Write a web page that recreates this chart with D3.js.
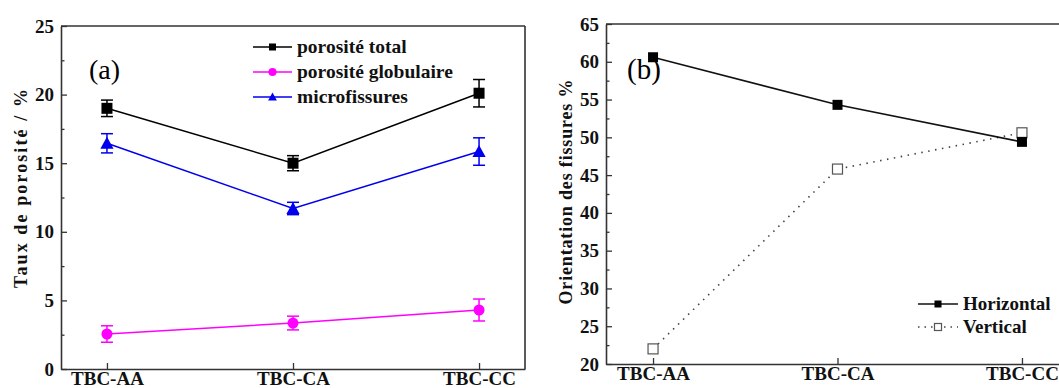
<!DOCTYPE html>
<html><head><meta charset="utf-8">
<script src="https://cdn.jsdelivr.net/npm/d3@7"></script>
<style>
body{margin:0;background:#fff;}
svg{display:block;}
</style></head><body>
<svg id="c" width="1059" height="388"></svg>
<script>
const categories = ["TBC-AA","TBC-CA","TBC-CC"];
// Panel (a)
const totalVals = [19.0, 15.0, 20.1];
const totalErr = [0.6, 0.55, 1.0];
const globVals = [2.55, 3.35, 4.3];
const globErr = [0.6, 0.5, 0.8];
const microVals = [16.45, 11.7, 15.85];
const microErr = [0.7, 0.45, 1.0];
const aYTicks = [0,5,10,15,20,25];
const aYMinor = [2.5,7.5,12.5,17.5,22.5];
const aLegend = ["porosité total","porosité globulaire","microfissures"];
// Panel (b)
const horizVals = [60.6, 54.3, 49.4];
const vertVals = [22.0, 45.8, 50.6];
const bYTicks = [20,25,30,35,40,45,50,55,60,65];
const bYMinor = [22.5,27.5,32.5,37.5,42.5,47.5,52.5,57.5,62.5];
const bLegend = ["Horizontal","Vertical"];

const FONT = "'Liberation Serif', 'Times New Roman', Tinos, serif";
const svg = d3.select("#c");
const frameColor = "#333";

function txt(g, x, y, s, size, bold){
  return g.append("text").attr("x",x).attr("y",y).style("font-family",FONT)
    .style("font-size",size+"px").style("font-weight",bold?"bold":"normal").attr("fill","#111").text(s);
}

function drawAxes(g, x, y, yTicks, yMinor, left, right, top, bottom){
  const ax = g.append("g").attr("transform",`translate(${left},0)`)
    .call(d3.axisLeft(y).tickValues(yTicks).tickSize(-6).tickSizeOuter(0).tickPadding(7));
  const am = g.append("g").attr("transform",`translate(${left},0)`)
    .call(d3.axisLeft(y).tickValues(yMinor).tickSize(-3.5).tickSizeOuter(0).tickFormat(""));
  am.select(".domain").remove();
  const bx = g.append("g").attr("transform",`translate(0,${bottom})`)
    .call(d3.axisBottom(x).tickSize(-6).tickSizeOuter(0).tickPadding(3));
  [ax,am,bx].forEach(a=>{
    a.selectAll("line").attr("stroke",frameColor).attr("stroke-width",1.3);
    a.selectAll(".domain").attr("stroke",frameColor).attr("stroke-width",1.6);
  });
  ax.selectAll("text").style("font-size","19px").style("font-weight","bold").attr("fill","#111")
    .style("font-family",FONT);
  bx.selectAll("text").style("font-size","19px").style("font-weight","bold").attr("fill","#111")
    .style("font-family",FONT).attr("dy","0.68em");
  g.append("line").attr("x1",left).attr("x2",right).attr("y1",top).attr("y2",top)
    .attr("stroke",frameColor).attr("stroke-width",1.6);
  g.append("line").attr("x1",right).attr("x2",right).attr("y1",top).attr("y2",bottom)
    .attr("stroke",frameColor).attr("stroke-width",1.6);
}

function marker(g, type, cx, cy, color, size, hollow){
  if(type==="square"){
    g.append("rect").attr("x",cx-size/2).attr("y",cy-size/2).attr("width",size).attr("height",size)
      .attr("fill",hollow?"#fff":color).attr("stroke",hollow?"#555":color).attr("stroke-width",hollow?1.2:0);
  } else if(type==="circle"){
    g.append("circle").attr("cx",cx).attr("cy",cy).attr("r",size/2).attr("fill",color);
  } else if(type==="triangle"){
    const s=size;
    g.append("path").attr("d",`M${cx},${cy-s*0.55}L${cx+s*0.55},${cy+s*0.45}L${cx-s*0.55},${cy+s*0.45}Z`).attr("fill",color);
  }
}

// ---- Panel (a)
{
  const left=61,right=525,top=26,bottom=369;
  const x=d3.scalePoint().domain(categories).range([left,right]).padding(0.247);
  const y=d3.scaleLinear().domain([0,25]).range([bottom,top]);
  const g=svg.append("g");
  drawAxes(g,x,y,aYTicks,aYMinor,left,right,top,bottom);
  const series=[
    {vals:totalVals,err:totalErr,color:"#000",type:"square",size:11},
    {vals:globVals,err:globErr,color:"#ff00ff",type:"circle",size:11},
    {vals:microVals,err:microErr,color:"#0000ee",type:"triangle",size:12}
  ];
  series.forEach(s=>{
    const line=d3.line().x((d,i)=>x(categories[i])).y(d=>y(d));
    g.append("path").attr("d",line(s.vals)).attr("fill","none").attr("stroke",s.color).attr("stroke-width",1.5);
    s.vals.forEach((v,i)=>{
      const cx=x(categories[i]);
      const y1=y(v+s.err[i]), y2=y(v-s.err[i]);
      g.append("line").attr("x1",cx).attr("x2",cx).attr("y1",y1).attr("y2",y2).attr("stroke",s.color).attr("stroke-width",1.5);
      [y1,y2].forEach(yy=>g.append("line").attr("x1",cx-6).attr("x2",cx+6).attr("y1",yy).attr("y2",yy).attr("stroke",s.color).attr("stroke-width",1.5));
      marker(g,s.type,cx,y(v),s.color,s.size);
    });
  });
  // legend
  const legY=[47,72,97];
  series.forEach((s,i)=>{
    g.append("line").attr("x1",253).attr("x2",292).attr("y1",legY[i]).attr("y2",legY[i]).attr("stroke",s.color).attr("stroke-width",1.5);
    marker(g,s.type,272.5,legY[i],s.color,s.type==="square"?7:8);
    txt(g,297,legY[i]+6,aLegend[i],19.5,true);
  });
  txt(g,89,79,"(a)",28,false).attr("fill","#000");
  txt(g,0,0,"Taux de porosité / %",18,true)
    .attr("transform",`translate(27,${(top+bottom)/2-9}) rotate(-90)`).attr("text-anchor","middle")
    .attr("textLength",199).attr("lengthAdjust","spacing");
}

// ---- Panel (b)
{
  const left=606,right=1069,top=24,bottom=364;
  const x=d3.scalePoint().domain(categories).range([left,right]).padding(0.255);
  const y=d3.scaleLinear().domain([20,65]).range([bottom,top]);
  const g=svg.append("g");
  drawAxes(g,x,y,bYTicks,bYMinor,left,right,top,bottom);
  const lineH=d3.line().x((d,i)=>x(categories[i])).y(d=>y(d));
  g.append("path").attr("d",lineH(vertVals)).attr("fill","none").attr("stroke","#444").attr("stroke-width",1.6)
    .attr("stroke-dasharray","1.5,5.5");
  g.append("path").attr("d",lineH(horizVals)).attr("fill","none").attr("stroke","#111").attr("stroke-width",1.6);
  vertVals.forEach((v,i)=>marker(g,"square",x(categories[i]),y(v),"#555",10,true));
  horizVals.forEach((v,i)=>marker(g,"square",x(categories[i]),y(v),"#000",10,false));
  // legend
  const legY=[304,327];
  g.append("line").attr("x1",918).attr("x2",958).attr("y1",legY[0]).attr("y2",legY[0]).attr("stroke","#111").attr("stroke-width",1.6);
  marker(g,"square",938,legY[0],"#000",7,false);
  g.append("line").attr("x1",918).attr("x2",958).attr("y1",legY[1]).attr("y2",legY[1]).attr("stroke","#444").attr("stroke-width",1.4).attr("stroke-dasharray","1.5,5");
  marker(g,"square",938,legY[1],"#555",7,true);
  bLegend.forEach((t,i)=>txt(g,963,legY[i]+6,t,19,true));
  txt(g,627,79,"(b)",29,false).attr("fill","#000");
  txt(g,0,0,"Orientation des fissures %",18,true)
    .attr("transform",`translate(572,${(top+bottom)/2-2}) rotate(-90)`).attr("text-anchor","middle")
    .attr("textLength",225).attr("lengthAdjust","spacing");
}
</script></body></html>
